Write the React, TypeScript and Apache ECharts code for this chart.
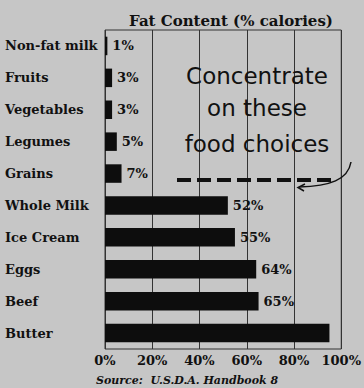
import React, { useEffect, useRef } from "react";
import * as echarts from "echarts";

const categories = ["Non-fat milk", "Fruits", "Vegetables", "Legumes", "Grains", "Whole Milk", "Ice Cream", "Eggs", "Beef", "Butter"];
const values = [1, 3, 3, 5, 7, 52, 55, 64, 65, 95];
const valueLabels = ["1%", "3%", "3%", "5%", "7%", "52%", "55%", "64%", "65%", ""];
const tickLabels = ["0%", "20%", "40%", "60%", "80%", "100%"];
const annotation = ["Concentrate", "on these", "food choices"];
const titleText = "Fat Content (% calories)";
const sourceText = "Source:  U.S.D.A. Handbook 8";

const SERIF = "'DejaVu Serif', 'Liberation Serif', serif";
const SANS = "'DejaVu Sans', 'Liberation Sans', sans-serif";

export default function App() {
  const ref = useRef<HTMLDivElement>(null);
  useEffect(() => {
    document.body.style.margin = "0";
    const chart = echarts.init(ref.current!, null, { renderer: "svg" });
    chart.setOption({
      animation: false,
      backgroundColor: "#c6c6c6",
      title: {
        text: titleText,
        left: 226,
        top: 8,
        textAlign: "center",
        textStyle: { fontFamily: SERIF, fontWeight: "bold", fontSize: 15, color: "#111" },
      },
      grid: {
        left: 105,
        top: 30,
        width: 249,
        bottom: 39,
        show: true,
        borderColor: "#333",
        borderWidth: 1,
        containLabel: false,
      },
      xAxis: {
        type: "value",
        min: 0,
        max: 100,
        interval: 20,
        axisLine: { show: false },
        axisTick: { show: false },
        splitLine: { show: true, lineStyle: { color: "#333", width: 1 } },
        axisLabel: {
          margin: 5,
          fontFamily: SERIF,
          fontWeight: "bold",
          fontSize: 13,
          color: "#111",
          formatter: (v: number) => tickLabels[Math.round(v / 20)],
        },
      },
      yAxis: {
        type: "category",
        data: categories,
        inverse: true,
        axisLine: { show: false },
        axisTick: { show: false },
        axisLabel: {
          margin: 100,
          align: "left",
          fontFamily: SERIF,
          fontWeight: "bold",
          fontSize: 13,
          color: "#111",
        },
      },
      series: [
        {
          type: "bar",
          data: values.map((v, i) => ({ value: v, label: { show: valueLabels[i] !== "" } })),
          barWidth: "58%",
          itemStyle: { color: "#0d0d0d" },
          label: {
            show: true,
            position: "right",
            distance: 5,
            fontFamily: SERIF,
            fontWeight: "bold",
            fontSize: 13,
            color: "#111",
            formatter: (p: any) => valueLabels[p.dataIndex],
          },
        },
      ],
      graphic: [
        ...annotation.map((t, i) => ({
          type: "text",
          x: 257,
          y: [76, 108, 144][i],
          style: {
            text: t,
            fontFamily: SANS,
            fontSize: 23,
            fill: "#111",
            align: "center",
            verticalAlign: "middle",
          },
          z: 10,
        })),
        {
          type: "line",
          shape: { x1: 177, y1: 180, x2: 336, y2: 180 },
          style: { stroke: "#111", lineWidth: 4, lineDash: [14, 6] },
          z: 10,
        },
        {
          type: "bezierCurve",
          shape: { x1: 351, y1: 162, cpx1: 348, cpy1: 180, cpx2: 330, cpy2: 186, x2: 299, y2: 187 },
          style: { stroke: "#111", lineWidth: 1.5, fill: null },
          z: 10,
        },
        {
          type: "polyline",
          shape: { points: [[305, 184], [298, 187.5], [304, 191]] },
          style: { stroke: "#111", lineWidth: 1.5, fill: null },
          z: 10,
        },
        {
          type: "text",
          x: 96,
          y: 380,
          style: {
            text: sourceText,
            fontFamily: SERIF,
            fontStyle: "italic",
            fontWeight: "bold",
            fontSize: 11,
            fill: "#111",
            verticalAlign: "middle",
          },
        },
      ],
    });
    return () => chart.dispose();
  }, []);
  return <div ref={ref} style={{ width: 364, height: 388 }} />;
}
